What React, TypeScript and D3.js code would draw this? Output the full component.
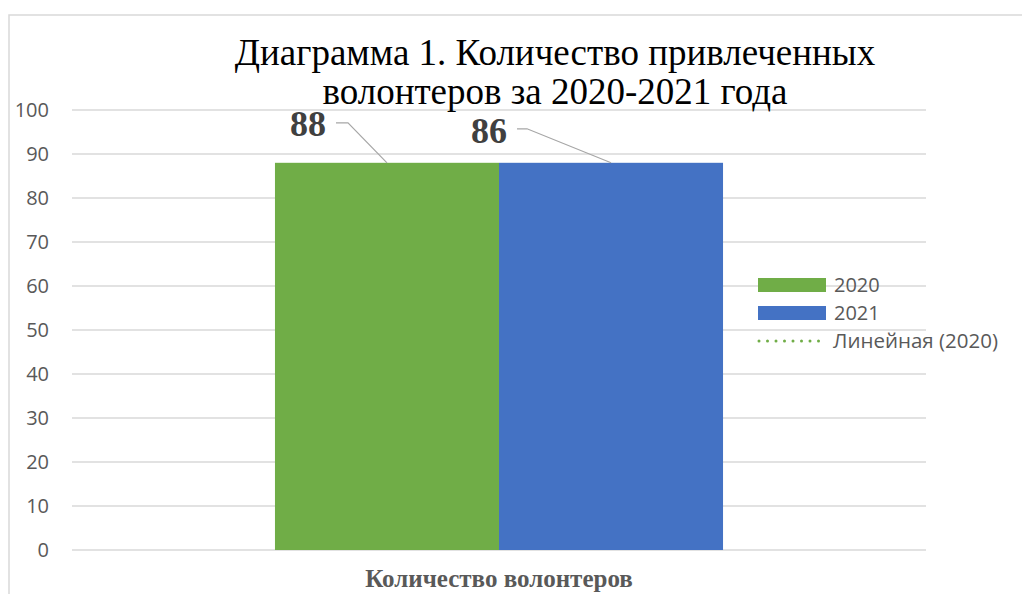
import React from 'react';
import * as d3 from 'd3';

// data
const categories = ['Количество волонтеров'];
const seriesNames = ['2020', '2021'];
const barValues = [88, 88];
const dataLabels = ['88', '86'];
const yTicks = [0, 10, 20, 30, 40, 50, 60, 70, 80, 90, 100];
const titleLines = ['Диаграмма 1. Количество привлеченных', 'волонтеров за 2020-2021 года'];
const trendName = 'Линейная (2020)';

const colors = ['#70ad47', '#4472c4'];
const width = 1022;
const height = 594;
const plot = { left: 72, right: 926, top: 110, bottom: 550 };
const sansFont = '"Open Sans", "Liberation Sans", sans-serif';
const serifFont = '"Liberation Serif", "Times New Roman", serif';

// hand-placed data labels (offset from the bar's top centre)
const labelOffsets = [
  { tx: -61, ty: -27, lx: -51, ly: -40, elbow: -39 },
  { tx: -104, ty: -20, lx: -94, ly: -34, elbow: -84 },
];

export default function App() {
  const y = d3.scaleLinear().domain([0, 100]).range([plot.bottom, plot.top]);
  const x0 = d3.scaleBand<string>()
    .domain(categories)
    .range([plot.left, plot.right])
    .paddingInner(0)
    .paddingOuter(0.453);
  const x1 = d3.scaleBand<string>()
    .domain(seriesNames)
    .range([0, x0.bandwidth()])
    .padding(0);

  return (
    <svg
      width={width}
      height={height}
      style={{ position: 'absolute', left: 0, top: 0, background: '#fff' }}
    >
      <rect x={9} y={15} width={1100} height={700} fill="#fff" stroke="#d9d9d9" strokeWidth={1.5} />

      {/* gridlines + y labels */}
      {yTicks.map((t) => (
        <g key={t}>
          <line x1={plot.left} x2={plot.right} y1={y(t)} y2={y(t)} stroke="#d9d9d9" strokeWidth={1.5} />
          <text
            x={49}
            y={y(t)}
            dy="0.36em"
            textAnchor="end"
            fontFamily={sansFont}
            fontSize={20}
            fill="#595959"
          >
            {t}
          </text>
        </g>
      ))}

      {/* bars */}
      {categories.map((c) =>
        seriesNames.map((s, i) => (
          <rect
            key={c + s}
            x={x0(c)! + x1(s)!}
            y={y(barValues[i])}
            width={x1.bandwidth()}
            height={y(0) - y(barValues[i])}
            fill={colors[i]}
          />
        ))
      )}

      {/* data labels with leader lines */}
      {categories.map((c) =>
        seriesNames.map((s, i) => {
          const mx = x0(c)! + x1(s)! + x1.bandwidth() / 2;
          const my = y(barValues[i]);
          const o = labelOffsets[i];
          return (
            <g key={'lbl' + s}>
              <polyline
                points={`${mx + o.lx},${my + o.ly} ${mx + o.elbow},${my + o.ly} ${mx},${my}`}
                fill="none"
                stroke="#a6a6a6"
                strokeWidth={1.2}
              />
              <text
                x={mx + o.tx}
                y={my + o.ty}
                textAnchor="end"
                fontFamily={serifFont}
                fontWeight="bold"
                fontSize={36}
                fill="#404040"
              >
                {dataLabels[i]}
              </text>
            </g>
          );
        })
      )}

      {/* title */}
      {titleLines.map((line, i) => (
        <text
          key={line}
          x={555}
          y={65 + i * 39}
          textAnchor="middle"
          fontFamily={serifFont}
          fontSize={37}
          fill="#000"
        >
          {line}
        </text>
      ))}

      {/* category axis label */}
      {categories.map((c) => (
        <text
          key={c}
          x={x0(c)! + x0.bandwidth() / 2}
          y={587}
          textAnchor="middle"
          fontFamily={serifFont}
          fontWeight="bold"
          fontSize={25}
          fill="#595959"
        >
          {c}
        </text>
      ))}

      {/* legend */}
      <g transform="translate(758,278)">
        {seriesNames.map((s, i) => (
          <g key={s} transform={`translate(0,${i * 28})`}>
            <rect x={0} y={0} width={68} height={14} fill={colors[i]} />
            <text x={76} y={7} dy="0.36em" fontFamily={sansFont} fontSize={20} fill="#595959">
              {s}
            </text>
          </g>
        ))}
        <g transform="translate(0,56)">
          <line
            x1={1}
            x2={62}
            y1={7}
            y2={7}
            stroke={colors[0]}
            strokeWidth={3}
            strokeDasharray="0 8.5"
            strokeLinecap="round"
          />
          <text x={75} y={7} dy="0.36em" fontFamily={sansFont} fontSize={20.5} fill="#595959">
            {trendName}
          </text>
        </g>
      </g>
    </svg>
  );
}
